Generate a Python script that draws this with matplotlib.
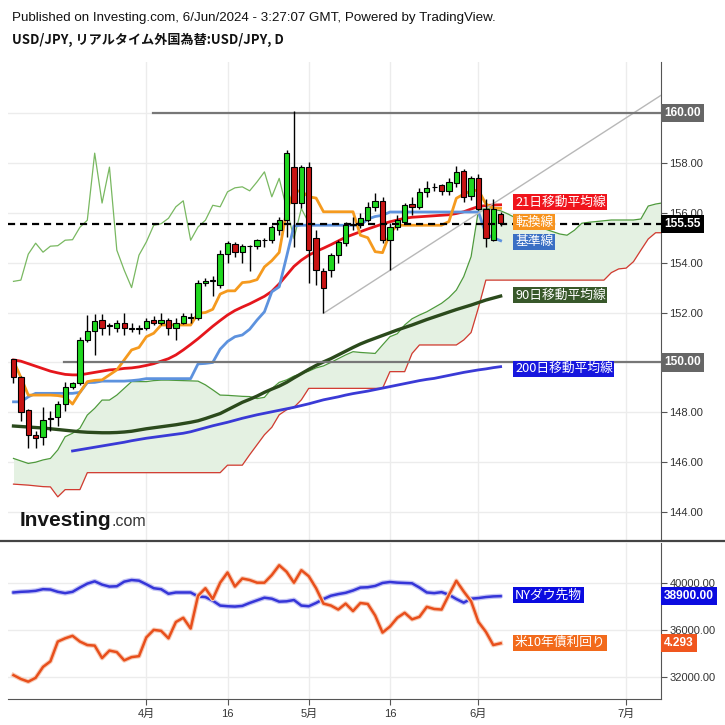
import numpy as np
import matplotlib
matplotlib.use('Agg')
import matplotlib.pyplot as plt
import matplotlib.transforms as mtransforms
from matplotlib.lines import Line2D
from matplotlib import font_manager as fm

plt.rcParams['font.family'] = ['Liberation Sans', 'Noto Sans CJK JP', 'DejaVu Sans']

# ---------------- data ----------------
opens = [150.12,149.40,148.10,147.10,146.99,147.77,147.80,148.35,149.00,149.16,
         150.88,151.24,151.69,151.48,151.40,151.60,151.36,151.34,151.37,151.69,
         151.60,151.69,151.40,151.60,151.80,151.77,153.17,153.28,153.10,154.34,
         154.74,154.42,154.66,154.66,154.90,154.90,155.30,155.70,157.83,156.39,
         157.83,154.98,153.65,153.72,154.30,154.78,155.52,155.50,155.70,156.22,
         156.48,154.90,155.43,155.64,156.35,156.24,156.82,157.02,157.11,156.88,
         157.20,157.69,156.67,157.38,156.17,154.90,155.97]
highs = [150.15,149.45,148.15,147.27,148.20,148.07,148.47,149.20,149.20,151.00,
         151.89,151.93,151.93,151.60,151.69,152.00,151.57,151.50,151.80,151.85,
         151.97,151.80,151.80,151.97,151.97,153.29,153.40,153.45,154.50,154.86,
         154.82,154.74,154.70,154.95,155.00,155.50,155.82,158.50,160.08,157.91,
         158.03,155.30,153.80,154.38,154.90,155.63,155.82,155.98,156.44,156.80,
         156.64,155.57,155.90,156.40,156.64,156.98,157.28,157.18,157.15,157.38,
         157.87,157.74,157.47,157.55,156.57,156.57,156.05]
lows = [149.16,147.67,146.55,146.55,146.67,147.27,147.47,148.07,148.95,149.08,
        150.80,150.28,151.08,151.08,151.20,151.08,151.20,151.15,151.30,151.50,
        151.50,151.10,150.88,151.55,151.60,151.69,153.05,152.65,153.00,153.98,
        154.22,153.98,153.65,154.55,154.62,154.78,155.10,155.02,154.62,156.19,
        153.20,153.10,151.97,153.41,153.99,154.66,155.30,155.38,155.63,156.08,
        154.77,153.69,155.30,155.57,155.90,156.17,156.64,156.88,156.70,156.70,
        157.04,156.44,156.50,156.10,154.61,154.86,155.46]
closes = [149.40,148.00,147.07,146.95,147.71,147.75,148.35,149.00,149.16,150.88,
          151.24,151.65,151.40,151.46,151.57,151.37,151.34,151.36,151.65,151.57,
          151.69,151.37,151.60,151.85,151.82,153.17,153.25,153.30,154.34,154.78,
          154.42,154.66,154.68,154.90,154.92,155.42,155.70,158.39,156.39,157.83,
          154.50,153.70,153.00,154.30,154.83,155.50,155.56,155.78,156.24,156.48,
          154.90,155.43,155.70,156.30,156.24,156.84,157.00,157.04,156.88,157.24,
          157.64,156.64,157.38,156.17,154.97,156.17,155.60]

tenkan = [150.06,149.40,148.69,148.69,148.69,148.69,148.67,148.62,148.33,148.80,
          149.23,149.28,149.30,149.50,149.70,150.10,150.50,150.60,151.03,151.17,
          151.50,151.50,151.50,151.50,151.50,151.97,152.00,152.13,152.74,152.87,
          152.87,153.20,153.23,153.32,153.83,154.08,154.41,156.08,156.87,156.87,
          156.64,156.59,156.04,156.04,156.04,156.04,156.04,155.10,155.00,154.44,
          154.40,155.18,155.50,155.50,155.50,155.50,155.50,155.50,155.50,155.65,
          156.58,156.75,156.88,156.91,156.35,156.18,156.18]
kijun = [148.42,148.42,148.62,148.76,148.76,148.76,148.76,148.76,148.76,148.80,
         149.19,149.20,149.25,149.25,149.25,149.25,149.27,149.30,149.35,149.35,
         149.35,149.35,149.35,149.35,149.35,149.94,149.96,150.00,150.53,150.84,
         151.03,151.10,151.33,151.70,152.03,152.83,153.03,154.24,155.47,155.50,
         155.50,155.50,155.50,155.50,155.50,155.50,155.50,155.50,155.75,155.85,
         155.90,156.03,156.03,156.03,156.03,156.03,156.03,156.03,156.03,156.03,
         156.03,156.03,156.03,156.03,155.15,155.00,154.88]
sma21 = [150.10,150.05,149.95,149.85,149.75,149.65,149.58,149.52,149.50,149.50,
         149.55,149.60,149.65,149.70,149.72,149.76,149.78,149.82,149.88,149.95,
         150.05,150.15,150.30,150.50,150.72,150.95,151.20,151.45,151.68,151.90,
         152.08,152.22,152.35,152.50,152.65,152.85,153.15,153.50,153.85,154.10,
         154.30,154.45,154.58,154.72,154.87,155.02,155.13,155.24,155.35,155.45,
         155.55,155.64,155.71,155.78,155.82,155.84,155.86,155.88,155.90,155.92,
         155.97,156.04,156.15,156.25,156.29,156.31,156.32]
sma90 = [147.45,147.43,147.41,147.39,147.37,147.34,147.31,147.28,147.25,147.22,
         147.20,147.19,147.18,147.18,147.19,147.21,147.24,147.29,147.34,147.38,
         147.42,147.46,147.50,147.55,147.60,147.66,147.75,147.85,147.95,148.10,
         148.25,148.40,148.52,148.65,148.80,148.93,149.05,149.20,149.38,149.55,
         149.72,149.88,150.02,150.15,150.30,150.45,150.60,150.74,150.86,150.97,
         151.08,151.19,151.30,151.40,151.50,151.61,151.72,151.82,151.92,152.02,
         152.12,152.21,152.30,152.40,152.50,152.58,152.66]
sma200 = [np.nan]*8 + [
         146.45,146.50,
         146.55,146.60,146.65,146.70,146.75,146.80,146.86,146.91,146.96,147.00,
         147.04,147.08,147.12,147.16,147.22,147.30,147.38,147.46,147.53,147.60,
         147.68,147.76,147.83,147.90,147.96,148.02,148.08,148.14,148.20,148.27,
         148.34,148.42,148.50,148.56,148.62,148.69,148.75,148.80,148.85,148.91,
         148.97,149.03,149.09,149.15,149.21,149.27,149.32,149.36,149.42,149.48,
         149.54,149.60,149.65,149.70,149.74,149.79,149.83]
span_a = [146.15,146.05,145.95,146.00,146.09,146.15,146.49,147.02,147.16,147.36,
          147.89,148.16,148.49,148.49,148.69,148.96,149.23,149.23,149.23,149.27,
          149.29,149.29,149.28,149.27,149.26,149.25,149.10,148.90,148.69,148.68,
          148.66,148.64,148.63,148.55,148.60,148.95,149.20,149.30,149.45,149.55,
          149.65,149.78,149.86,150.00,150.15,150.30,150.43,150.40,150.38,150.36,
          150.70,151.03,151.15,151.50,151.75,151.90,152.03,152.20,152.37,152.60,
          152.90,153.44,154.24,156.11,156.17,156.14,156.08,155.95,155.80,155.70,
          155.60,155.50,155.35,155.25,155.15,155.10,155.30,155.58,155.62,155.65,
          155.68,155.71,155.71,155.71,155.71,155.75,156.27,156.35,156.40]
span_b = [145.12,145.10,145.08,145.05,145.02,145.01,144.61,144.90,144.90,144.90,
          145.58,145.58,145.58,145.58,145.58,145.58,145.58,145.58,145.58,145.58,
          145.58,145.58,145.58,145.58,145.58,145.58,145.58,145.58,145.58,145.88,
          145.88,145.88,146.30,146.70,147.10,147.40,147.90,148.10,148.20,148.50,
          148.96,148.96,148.96,148.96,148.96,148.96,148.96,148.96,148.96,148.96,
          148.96,149.63,149.63,149.63,150.36,150.70,150.70,150.70,150.70,150.70,
          150.70,150.90,151.20,152.20,153.30,153.30,153.30,153.30,153.30,153.30,
          153.30,153.30,153.30,153.30,153.30,153.30,153.30,153.30,153.30,153.30,
          153.30,153.60,153.75,153.78,154.04,154.50,154.95,155.20,155.20]
dow = [39214,39270,39298,39354,39495,39467,39270,39158,39270,39635,
       39972,40168,39888,39719,39747,40140,40281,40225,39916,39579,
       39495,39102,39214,39214,39214,38877,38821,38512,38091,38035,
       38007,38063,38316,38540,38765,38681,38428,38456,38568,38091,
       38035,38316,38653,38933,39074,39186,39382,39635,39663,39775,
       40028,40112,40056,40028,40000,39635,39214,39158,39242,39018,
       38653,38344,38681,38737,38821,38877,38900]
yield10 = [4.127,4.107,4.093,4.113,4.170,4.199,4.302,4.319,4.332,4.302,
           4.284,4.281,4.216,4.255,4.247,4.204,4.221,4.226,4.324,4.363,
           4.358,4.319,4.404,4.426,4.370,4.541,4.580,4.524,4.609,4.662,
           4.589,4.631,4.623,4.609,4.609,4.649,4.700,4.666,4.609,4.674,
           4.643,4.580,4.500,4.490,4.469,4.500,4.461,4.503,4.498,4.438,
           4.349,4.380,4.426,4.452,4.418,4.431,4.483,4.472,4.469,4.546,
           4.619,4.563,4.512,4.404,4.353,4.284,4.293]

date_ticks = [18, 29, 40, 51, 63, 83]
date_labels = ['4月', '16', '5月', '16', '6月', '7月']
price_ticks = [144, 146, 148, 150, 152, 154, 156, 158, 160]
lower_ticks = [32000, 36000, 40000]
last_price = 155.55
level_hi = 160.0
level_lo = 150.0

# ---------------- figure ----------------
W = H = 725
fig = plt.figure(figsize=(7.25, 7.25), dpi=100)
fig.patch.set_facecolor('white')

def fx(px): return px / W
def fy(py): return 1 - py / H

ax = fig.add_axes([fx(8), fy(540), fx(661) - fx(8), fy(62) - fy(540)])
ax2 = fig.add_axes([fx(8), fy(699), fx(661) - fx(8), fy(543) - fy(699)])
ax2y = ax2.twinx()

xlim = (-0.745, 87.73)
n = len(closes)
x = np.arange(n)
xs = np.arange(len(span_a))

for a in (ax, ax2):
    a.set_xlim(*xlim)
    a.set_facecolor('white')
    for s in ('top', 'left'):
        a.spines[s].set_visible(False)
    a.spines['right'].set_color('#555555')
    a.yaxis.tick_right()
    a.yaxis.set_label_position('right')
    a.set_xticks(date_ticks)
    a.grid(True, color='#ececec', lw=1, zorder=0)
    a.set_axisbelow(True)

ax.spines['bottom'].set_visible(False)
ax.set_ylim(142.88, 162.045)
ax.set_yticks(price_ticks)
# 150 and 160 are covered by their value boxes
ax.set_yticklabels(['' if v in (level_hi, level_lo) else f'{v:.2f}' for v in price_ticks])
ax.tick_params(axis='y', labelsize=8, colors='#555555', labelcolor='#333333', length=4, pad=2)
ax.tick_params(axis='x', length=0, labelbottom=False)

# cloud
ax.fill_between(xs, span_a, span_b, color='#e4f1e2', zorder=1, lw=0)
ax.plot(xs, span_a, color='#4e9a3c', lw=0.9, zorder=2)
ax.plot(xs, span_b, color='#d23a30', lw=0.9, zorder=2)
# lagging span
ax.plot(x[:n - 26], closes[26:], color='#79b861', lw=0.9, zorder=2)

# moving averages / ichimoku lines
ax.plot(x, sma200, color='#3a3ad6', lw=2.0, zorder=3)
ax.plot(x, sma90, color='#2b4a1c', lw=2.4, zorder=3)
ax.plot(x, sma21, color='#e5161c', lw=2.0, zorder=3)
ax.plot(x, kijun, color='#5d92de', lw=2.0, zorder=3)
ax.plot(x, tenkan, color='#f59a1e', lw=2.0, zorder=3)

# horizontal levels
ax.plot([18.9, xlim[1]], [level_hi, level_hi], color='#777777', lw=1.6, zorder=3.5)
ax.plot([6.85, xlim[1]], [level_lo, level_lo], color='#777777', lw=1.6, zorder=3.5)

# trend line through two lows
i1, i2 = 42, 51
slope = (lows[i2] - lows[i1]) / (i2 - i1)
xe = xlim[1] + 1
ax.plot([i1, xe], [lows[i1], lows[i1] + slope * (xe - i1)], color='#b8b8b8', lw=1.0, zorder=3.2)

# candles
o = np.array(opens); c = np.array(closes); h = np.array(highs); l = np.array(lows)
up = c >= o
ax.vlines(x, l, h, color='black', lw=1.0, zorder=4.9)
body_b = np.minimum(o, c)
body_h = np.maximum(np.abs(c - o), 0.025)
ax.bar(x[up], body_h[up], bottom=body_b[up], width=0.72, color='#1fd81f',
       edgecolor='black', lw=0.8, zorder=5)
ax.bar(x[~up], body_h[~up], bottom=body_b[~up], width=0.72, color='#c81414',
       edgecolor='black', lw=0.8, zorder=5)

# last price dashed line
ax.axhline(last_price, color='black', lw=1.6, ls=(0, (3.2, 2.2)), zorder=6)

# labels for indicators
cjk = ['Noto Sans CJK JP', 'DejaVu Sans']
def tag(a, xi, y, s, fc, fs=9.2, tr=None):
    a.text(xi, y, s, fontsize=fs, color='white', family=cjk, va='center', ha='left',
           bbox=dict(boxstyle='square,pad=0.12', fc=fc, ec='none'), zorder=10,
           clip_on=False, transform=tr if tr is not None else a.transData)

lx = 67.95
tag(ax, lx, 156.43, '21日移動平均線', '#f0141c')
tag(ax, lx, 155.63, '転換線', '#f7931e')
tag(ax, lx, 154.83, '基準線', '#3a6fc4')
tag(ax, lx, 152.70, '90日移動平均線', '#38582a')
tag(ax, lx, 149.75, '200日移動平均線', '#1717de')

# right axis value boxes
def vbox(a, y, s, fc, tr):
    a.text(1.005, y, s, fontsize=8.6, color='white', weight='bold', va='center', ha='left',
           family=['Liberation Sans'], transform=tr, clip_on=False, zorder=11,
           bbox=dict(boxstyle='square,pad=0.26', fc=fc, ec='none'))

trm = mtransforms.blended_transform_factory(ax.transAxes, ax.transData)
vbox(ax, level_hi, f'{level_hi:.2f}', '#666666', trm)
vbox(ax, level_lo, f'{level_lo:.2f}', '#666666', trm)
vbox(ax, last_price, f'{last_price:.2f}', '#000000', trm)

# ---------------- lower panel ----------------
ax2.set_ylim(30086, 43453)
ax2.set_yticks(lower_ticks)
ax2.set_yticklabels([f'{v:.2f}' for v in lower_ticks])
ax2.tick_params(axis='y', labelsize=8, colors='#555555', labelcolor='#333333', length=4, pad=2,
                left=False, labelleft=False, right=True, labelright=True)
ax2.spines['bottom'].set_color('#555555')
ax2.set_xticklabels(date_labels)
ax2.tick_params(axis='x', labelsize=8, colors='#555555', labelcolor='#333333', length=4, pad=3)

ax2y.set_ylim(4.0026, 4.816)
ax2y.set_xlim(*xlim)
ax2y.axis('off')

ax2.plot(x, dow, color='#c4c4f4', lw=3.6, zorder=3, solid_capstyle='round')
ax2.plot(x, dow, color='#3535d8', lw=1.8, zorder=3.1)
ax2y.plot(x, yield10, color='#f8cdb9', lw=3.4, zorder=3)
ax2y.plot(x, yield10, color='#e84f1c', lw=1.8, zorder=3.1)

tag(ax2, lx, 38997, 'NYダウ先物', '#0b0be0')
tag(ax2, lx, 34910, '米10年債利回り', '#f26a1b')

tr2 = mtransforms.blended_transform_factory(ax2.transAxes, ax2.transData)
vbox(ax2, dow[-1], f'{dow[-1]:.2f}', '#0b0be0', tr2)
tr2y = mtransforms.blended_transform_factory(ax2y.transAxes, ax2y.transData)
vbox(ax2y, yield10[-1], f'{yield10[-1]:.3f}', '#f0561e', tr2y)

# separator line between panels
fig.add_artist(Line2D([0, 1], [fy(541), fy(541)], color='#444444', lw=1.6))

# ---------------- header texts & logo ----------------
names = {f.name for f in fm.fontManager.ttflist}
hdr_font = 'Liberation Sans Narrow' if 'Liberation Sans Narrow' in names else 'Liberation Sans'
hdr = fig.text(fx(12), fy(18), 'Published on Investing.com, 6/Jun/2024 - 3:27:07 GMT, Powered by TradingView.',
               fontsize=9.5, family=[hdr_font], color='#111111', va='center')
ttl = fig.text(fx(12), fy(40), 'USD/JPY, リアルタイム外国為替:USD/JPY, D', fontsize=9.2,
               family=['Noto Sans CJK JP', 'DejaVu Sans'], weight='bold', color='#111111', va='center')
logo1 = fig.text(fx(20), fy(526), 'Investing', fontsize=15.0, weight='bold', family=['Liberation Sans'],
                 color='#151515', va='baseline')
logo2 = fig.text(fx(112), fy(526), '.com', fontsize=11.5, family=['Liberation Sans'],
                 color='#333333', va='baseline')

fig.canvas.draw()
r = fig.canvas.get_renderer()
bw = hdr.get_window_extent(r).width
hdr.set_fontsize(9.5 * 485.0 / bw)
tw = ttl.get_window_extent(r).width
ttl.set_fontsize(9.2 * 270.0 / tw)
lb = logo1.get_window_extent(r)
logo2.set_position((lb.x1 / W, fy(526)))

fig.savefig('out.png', dpi=100, facecolor='white')
